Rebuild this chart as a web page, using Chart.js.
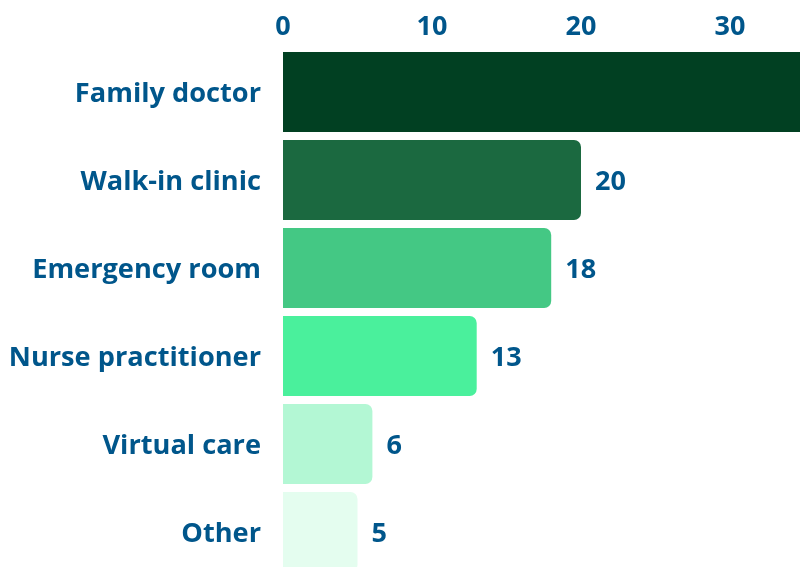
<!DOCTYPE html>
<html>
<head>
<meta charset="utf-8">
<script src="https://cdn.jsdelivr.net/npm/chart.js@4.4.1/dist/chart.umd.min.js"></script>
<style>
  html, body { margin: 0; padding: 0; background: #ffffff; overflow: hidden; width: 800px; height: 567px; }
  #wrap { position: absolute; left: 0; top: 0; width: 879px; height: 576px; }
</style>
</head>
<body>
<div id="wrap"><canvas id="c" width="879" height="576"></canvas></div>
<script>
const categories = ["Family doctor", "Walk-in clinic", "Emergency room", "Nurse practitioner", "Virtual care", "Other"];
const values = [38, 20, 18, 13, 6, 5];
const barColors = ["#014022", "#1b6940", "#44c884", "#4af09c", "#b3f7d4", "#e4fdef"];
const xTicks = [0, 10, 20, 30, 40];

const textColor = "#00568b";

const valueLabels = {
  id: "valueLabels",
  afterDatasetsDraw(chart) {
    const ctx = chart.ctx;
    const meta = chart.getDatasetMeta(0);
    ctx.save();
    ctx.font = "bold 27px 'Open Sans'";
    ctx.fillStyle = textColor;
    ctx.textAlign = "left";
    ctx.textBaseline = "middle";
    meta.data.forEach((bar, i) => {
      ctx.fillText(String(values[i]), bar.x + 14, bar.y + 2);
    });
    ctx.restore();
  }
};

function noPad(s) {
  s.paddingTop = 0; s.paddingBottom = 0; s.paddingLeft = 0; s.paddingRight = 0;
}

Chart.defaults.font.family = "'Open Sans'";

new Chart(document.getElementById("c"), {
  type: "bar",
  data: {
    labels: categories,
    datasets: [{
      data: values,
      backgroundColor: barColors,
      borderRadius: 7,
      borderSkipped: "start",
      barPercentage: 80 / 88,
      categoryPercentage: 1
    }]
  },
  options: {
    indexAxis: "y",
    responsive: false,
    animation: false,
    layout: { padding: 0 },
    plugins: { legend: { display: false }, tooltip: { enabled: false }, title: { display: false } },
    scales: {
      x: {
        position: "top",
        min: 0,
        max: 40,
        afterBuildTicks: (s) => { s.ticks = xTicks.map(v => ({ value: v })); },
        grid: { display: false, drawTicks: false },
        border: { display: false },
        ticks: { color: textColor, font: { size: 27, weight: "bold" }, padding: 4, maxRotation: 0 },
        afterFit: (s) => { s.height = 48; noPad(s); }
      },
      y: {
        grid: { display: false, drawTicks: false },
        border: { display: false },
        ticks: { color: textColor, font: { size: 27.2, weight: "bold" }, padding: 22, labelOffset: 2 },
        afterFit: (s) => { s.width = 283; noPad(s); }
      }
    }
  },
  plugins: [valueLabels]
});
</script>
</body>
</html>
